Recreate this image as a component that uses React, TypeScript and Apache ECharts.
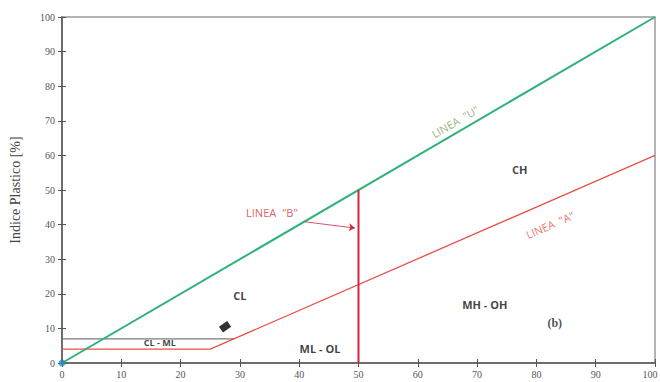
import React, { useEffect, useRef } from "react";
import * as echarts from "echarts";

const uLine = [[0, 0], [100, 100]];
const aLine = [[0, 4], [25, 4], [100, 60]];
const clmlTop = [[0, 7], [29, 7]];
const bLine = [[50, 0], [50, 50]];
const originPoint = [[0, 0]];
const samplePoint = [[27.5, 10.5]];
const bArrow = [[41, 40.8], [49.4, 39]];

const zoneLabels = [
  { name: "CH", value: [77.2, 55.8], size: 11 },
  { name: "CL", value: [30, 19.4], size: 11 },
  { name: "MH - OH", value: [71.3, 16.8], size: 11 },
  { name: "CL - ML", value: [16.5, 5.8], size: 9 },
  { name: "ML - OL", value: [43.5, 4.3], size: 11 },
];
const lineLabelU = { name: 'LINEA  "U"', value: [66.3, 69.8] };
const lineLabelA = { name: 'LINEA  "A"', value: [82.3, 39.9] };
const lineLabelB = { name: 'LINEA  "B"', value: [35.4, 43.6] };
const panelLabel = { name: "(b)", value: [83.1, 11.6] };

export default function App() {
  const ref = useRef<HTMLDivElement>(null);
  useEffect(() => {
    const chart = echarts.init(ref.current!, null, { renderer: "svg" });
    const serif = "Liberation Serif";
    const sans = "Open Sans";
    const axisCommon = {
      type: "value",
      min: 0,
      max: 100,
      interval: 10,
      splitLine: { show: false },
    };
    chart.setOption({
      animation: false,
      backgroundColor: "#fff",
      grid: {
        left: 62,
        right: 5,
        top: 17,
        bottom: 19,
        show: true,
        borderColor: "#9a9a9a",
        borderWidth: 1.5,
        containLabel: false,
        outerBoundsMode: "none",
      },
      xAxis: [
        {
          ...axisCommon,
          axisLine: { show: true, lineStyle: { color: "#555", width: 1.5 } },
          axisTick: { show: true, inside: false, length: 4, lineStyle: { color: "#555" } },
          axisLabel: {
            fontFamily: serif,
            fontSize: 10,
            color: "#555",
            margin: 6,
            formatter: (v: number) => (v === 100 ? "{r|100}" : String(v)),
            rich: { r: { fontFamily: serif, fontSize: 10, color: "#555", padding: [0, 10, 0, 0] } },
          },
        },
        {
          ...axisCommon,
          position: "bottom",
          axisLine: { show: false },
          axisTick: { show: true, inside: true, length: 4, lineStyle: { color: "#555" } },
          axisLabel: { show: false },
        },
      ],
      yAxis: [
        {
          ...axisCommon,
          name: "Indice Plastico [%]",
          nameLocation: "middle",
          nameGap: 40,
          nameTextStyle: { fontFamily: serif, fontSize: 14, color: "#444" },
          axisLine: { show: true, lineStyle: { color: "#555", width: 1.5 } },
          axisTick: { show: true, inside: false, length: 4, lineStyle: { color: "#555" } },
          axisLabel: { fontFamily: serif, fontSize: 10, color: "#555", margin: 7 },
        },
        {
          ...axisCommon,
          position: "left",
          axisLine: { show: false },
          axisTick: { show: true, inside: true, length: 4, lineStyle: { color: "#555" } },
          axisLabel: { show: false },
        },
      ],
      series: [
        {
          type: "line",
          data: clmlTop,
          symbol: "none",
          lineStyle: { color: "#7a7a7a", width: 1.3 },
        },
        {
          type: "line",
          data: aLine,
          symbol: "none",
          lineStyle: { color: "#e8504a", width: 1.3 },
        },
        {
          type: "line",
          data: uLine,
          symbol: "none",
          lineStyle: { color: "#2fb27a", width: 2 },
        },
        {
          type: "line",
          data: bLine,
          symbol: "none",
          lineStyle: { color: "#d6243c", width: 2 },
          markLine: {
            silent: true,
            symbol: ["none", "arrow"],
            symbolSize: 6,
            label: { show: false },
            lineStyle: { color: "#d6243c", width: 0.8, type: "solid" },
            data: [[{ coord: bArrow[0] }, { coord: bArrow[1] }]],
          },
        },
        {
          type: "scatter",
          data: originPoint,
          symbolSize: 7,
          itemStyle: { color: "#2a8cc0" },
          z: 5,
        },
        {
          type: "scatter",
          data: samplePoint,
          symbol: "rect",
          symbolSize: [10, 7],
          symbolRotate: 35,
          itemStyle: { color: "#000" },
        },
        {
          type: "scatter",
          symbolSize: 0,
          data: zoneLabels.map((d) => ({
            name: d.name,
            value: d.value,
            label: { fontSize: d.size },
          })),
          label: {
            show: true,
            position: "inside",
            formatter: "{b}",
            fontFamily: sans,
            fontWeight: "bold",
            color: "#111",
          },
        },
        {
          type: "scatter",
          symbolSize: 0,
          data: [lineLabelU],
          label: {
            show: true,
            position: "inside",
            formatter: "{b}",
            rotate: 30,
            fontFamily: sans,
            fontSize: 11,
            color: "#7fa060",
          },
        },
        {
          type: "scatter",
          symbolSize: 0,
          data: [lineLabelA],
          label: {
            show: true,
            position: "inside",
            formatter: "{b}",
            rotate: 23.5,
            fontFamily: sans,
            fontSize: 11,
            color: "#e8504a",
          },
        },
        {
          type: "scatter",
          symbolSize: 0,
          data: [lineLabelB],
          label: {
            show: true,
            position: "inside",
            formatter: "{b}",
            fontFamily: sans,
            fontSize: 11,
            color: "#d6303c",
          },
        },
        {
          type: "scatter",
          symbolSize: 0,
          data: [panelLabel],
          label: {
            show: true,
            position: "inside",
            formatter: "{b}",
            fontFamily: serif,
            fontWeight: "bold",
            fontSize: 12,
            color: "#222",
          },
        },
      ],
    });
    return () => chart.dispose();
  }, []);
  return <div ref={ref} style={{ width: 660, height: 382, position: "absolute", left: 0, top: 0 }} />;
}
